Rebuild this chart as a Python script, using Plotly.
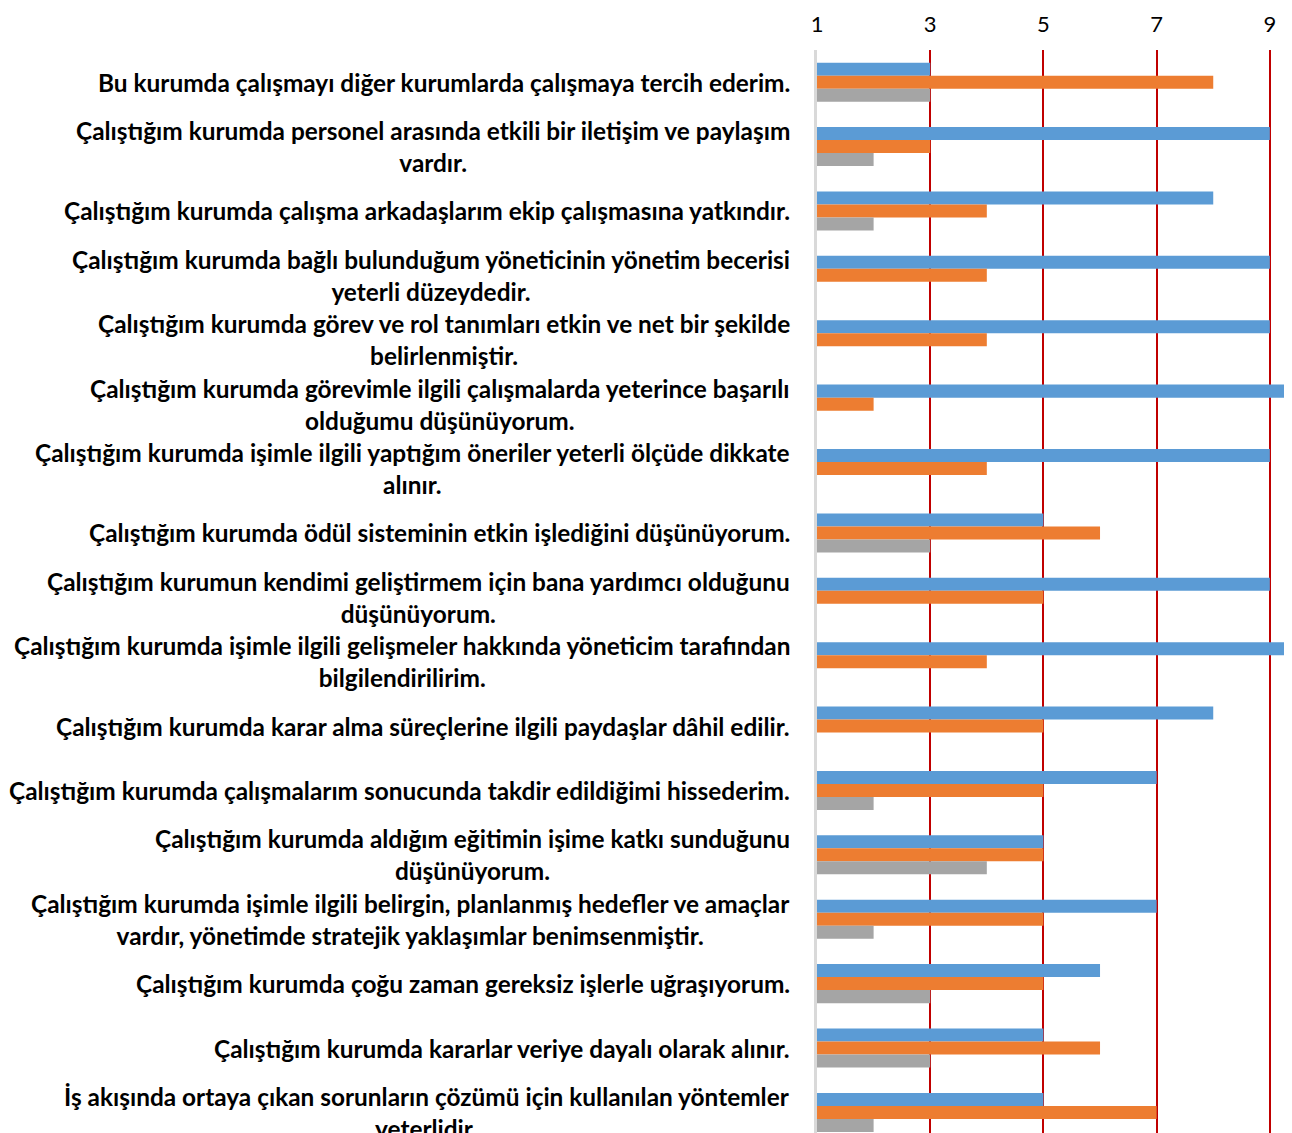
import plotly.graph_objects as go

categories = [
    "Bu kurumda çalışmayı diğer kurumlarda çalışmaya tercih ederim.",
    "Çalıştığım kurumda personel arasında etkili bir iletişim ve paylaşım<br>vardır.",
    "Çalıştığım kurumda çalışma arkadaşlarım ekip çalışmasına yatkındır.",
    "Çalıştığım kurumda bağlı bulunduğum yöneticinin yönetim becerisi<br>yeterli düzeydedir.",
    "Çalıştığım kurumda görev ve rol tanımları etkin ve net bir şekilde<br>belirlenmiştir.",
    "Çalıştığım kurumda görevimle ilgili çalışmalarda yeterince başarılı<br>olduğumu düşünüyorum.",
    "Çalıştığım kurumda işimle ilgili yaptığım öneriler yeterli ölçüde dikkate<br>alınır.",
    "Çalıştığım kurumda ödül sisteminin etkin işlediğini düşünüyorum.",
    "Çalıştığım kurumun kendimi geliştirmem için bana yardımcı olduğunu<br>düşünüyorum.",
    "Çalıştığım kurumda işimle ilgili gelişmeler hakkında yöneticim tarafından<br>bilgilendirilirim.",
    "Çalıştığım kurumda karar alma süreçlerine ilgili paydaşlar dâhil edilir.",
    "Çalıştığım kurumda çalışmalarım sonucunda takdir edildiğimi hissederim.",
    "Çalıştığım kurumda aldığım eğitimin işime katkı sunduğunu<br>düşünüyorum.",
    "Çalıştığım kurumda işimle ilgili belirgin, planlanmış hedefler ve amaçlar<br>vardır, yönetimde stratejik yaklaşımlar benimsenmiştir.",
    "Çalıştığım kurumda çoğu zaman gereksiz işlerle uğraşıyorum.",
    "Çalıştığım kurumda kararlar veriye dayalı olarak alınır.",
    "İş akışında ortaya çıkan sorunların çözümü için kullanılan yöntemler<br>yeterlidir.",
]

series_blue = [3, 9, 8, 9, 9, 10, 9, 5, 9, 10, 8, 7, 5, 7, 6, 5, 5]
series_orange = [8, 3, 4, 4, 4, 2, 4, 6, 5, 4, 5, 5, 5, 5, 5, 6, 7]
series_gray = [3, 2, 2, 0, 0, 0, 0, 3, 0, 0, 0, 2, 4, 2, 3, 3, 2]

tick_values = [1, 3, 5, 7, 9]

colors = ["#5B9BD5", "#ED7D31", "#A5A5A5"]
names = ["Seri 1", "Seri 2", "Seri 3"]

fig = go.Figure()
for vals, col, nm in zip([series_blue, series_orange, series_gray], colors, names):
    fig.add_trace(go.Bar(
        x=vals, y=categories, orientation="h", name=nm,
        marker=dict(color=col, line=dict(width=0)),
    ))

font_family = "Lato, 'Open Sans', sans-serif"

annotations = []
for cat in categories:
    lines = cat.split("<br>")
    annotations.append(dict(
        x=0, xref="paper", y=cat, yref="y",
        text="<br>".join("<b>" + ln + "</b>" for ln in lines),
        showarrow=False, align="center",
        xanchor="right", yanchor="middle", xshift=-25,
        font=dict(family=font_family, size=24.4, color="#000000"),
    ))

fig.update_layout(
    width=1284, height=1125,
    margin=dict(l=809, r=8, t=42, b=0, autoexpand=False),
    paper_bgcolor="white", plot_bgcolor="white",
    barmode="group", bargap=0.394, bargroupgap=0,
    showlegend=False,
    annotations=annotations,
    xaxis=dict(
        side="top", range=[1, 9.25], tickvals=tick_values,
        ticktext=[str(v) for v in tick_values],
        showgrid=True, gridcolor="#C00000", gridwidth=2,
        zeroline=False, showline=False, ticks="",
        tickfont=dict(family=font_family, size=22, color="#000000"),
        ticklabelstandoff=13, automargin=False,
    ),
    yaxis=dict(
        range=[16.32, -0.5], showticklabels=False, showgrid=False,
        showline=True, linecolor="#D9D9D9", linewidth=3, zeroline=False,
        ticks="", automargin=False,
    ),
)

fig.write_html("out.html")
